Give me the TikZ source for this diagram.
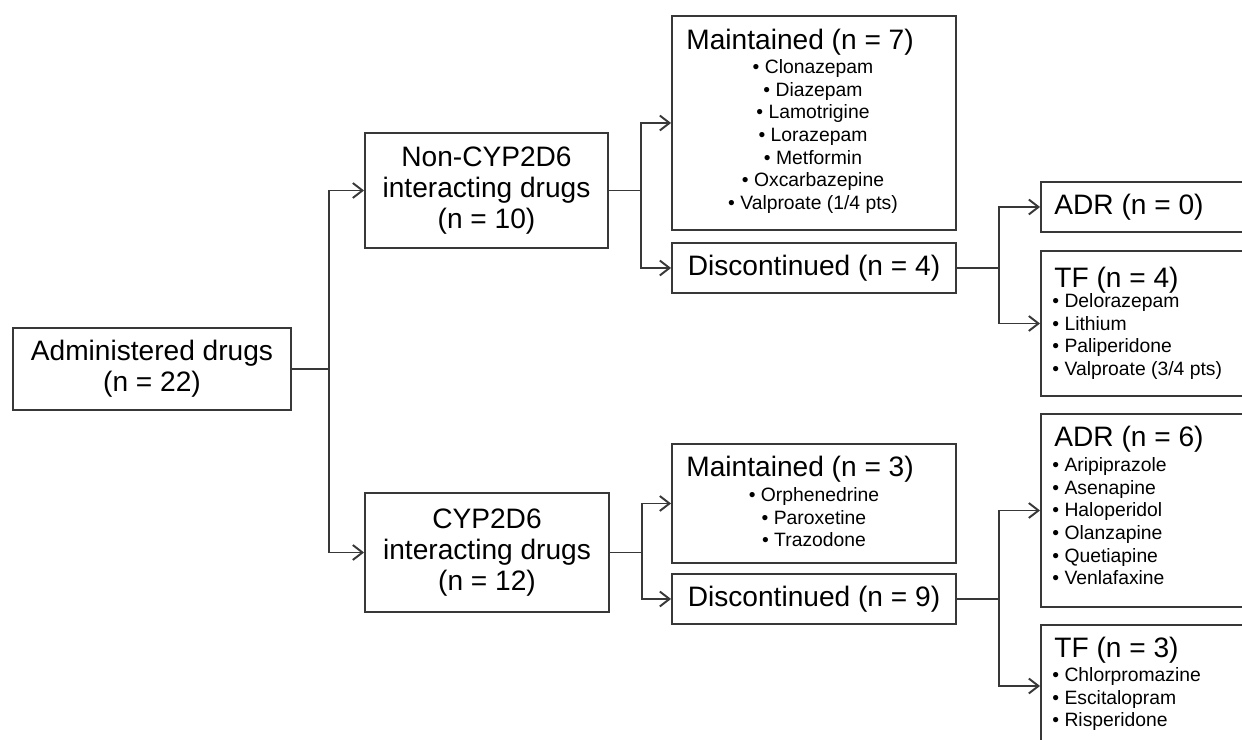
\documentclass[tikz,border=0pt]{standalone}
\usepackage{fontspec}
\setmainfont{Liberation Sans}
\usetikzlibrary{arrows.meta}

\begin{document}
\begin{tikzpicture}[x=0.02cm, y=0.02cm]
    \tikzstyle{box} = [rectangle, draw=black!78, line width=1.1pt, inner sep=0pt]
    \tikzstyle{head} = [font=\fontsize{16}{17.8}\selectfont, inner sep=0pt, align=center]
    \tikzstyle{items} = [font=\fontsize{11}{12.9}\selectfont, inner sep=0pt]
    \tikzstyle{line} = [draw=black!78, line width=1.1pt]
    \tikzstyle{arr} = [line, -{Straight Barb[length=5.5pt, width=8.5pt, line width=1.1pt]}]

    \useasboundingbox (0,0) rectangle (1242,740);
    \clip (0,0) rectangle (1242,740);

    \node [box, minimum width=5.56cm, minimum height=1.64cm] (admin) at (152,371) {};
    \node [box, minimum width=4.86cm, minimum height=2.3cm] (noncyp) at (486.5,549.5) {};
    \node [box, minimum width=4.88cm, minimum height=2.38cm] (cyp) at (487,187.5) {};
    \node [box, minimum width=5.68cm, minimum height=4.28cm] (mt7) at (814,617) {};
    \node [box, minimum width=5.68cm, minimum height=1cm] (dc4) at (814,472) {};
    \node [box, minimum width=5.68cm, minimum height=2.38cm] (mt3) at (814,236.5) {};
    \node [box, minimum width=5.68cm, minimum height=1cm] (dc9) at (814,141) {};
    \node [box, minimum width=4.18cm, minimum height=1cm] (adr0) at (1145.5,533) {};
    \node [box, minimum width=4.18cm, minimum height=2.9cm] (tf4) at (1145.5,416.5) {};
    \node [box, minimum width=4.18cm, minimum height=3.86cm] (adr6) at (1145.5,229.5) {};
    \node [box, minimum width=4.18cm, minimum height=2.44cm] (tf3) at (1145.5,54) {};

    \node [head] at (admin) {Administered drugs\\(n = 22)};
    \node [head] at (noncyp) {Non-CYP2D6\\interacting drugs\\(n = 10)};
    \node [head] at (cyp) {CYP2D6\\interacting drugs\\(n = 12)};
    \node [head] at (dc4) {Discontinued (n = 4)};
    \node [head] at (dc9) {Discontinued (n = 9)};

    \node [head, anchor=base west] (mt7head) at ([shift={(15,-34)}]mt7.north west) {Maintained (n = 7)};
    \node [items, anchor=north, align=center] (mt7list) at ([shift={(-1,-44)}]mt7.north) {%
        \textbullet~Clonazepam\\\textbullet~Diazepam\\\textbullet~Lamotrigine\\\textbullet~Lorazepam\\%
        \textbullet~Metformin\\\textbullet~Oxcarbazepine\\\textbullet~Valproate (1/4 pts)};
    \node [head, anchor=base west] (mt3head) at ([shift={(15,-33)}]mt3.north west) {Maintained (n = 3)};
    \node [items, anchor=north, align=center] (mt3list) at ([shift={(0,-44)}]mt3.north) {%
        \textbullet~Orphenedrine\\\textbullet~Paroxetine\\\textbullet~Trazodone};

    \node [head, anchor=base west] (adr0head) at ([shift={(14,-33)}]adr0.north west) {ADR (n = 0)};
    \node [head, anchor=base west] (tf4head) at ([shift={(14,-37)}]tf4.north west) {TF (n = 4)};
    \node [items, anchor=north west, align=left] (tf4list) at ([shift={(12,-43)}]tf4.north west) {%
        \textbullet~Delorazepam\\\textbullet~Lithium\\\textbullet~Paliperidone\\\textbullet~Valproate (3/4 pts)};
    \node [head, anchor=base west] (adr6head) at ([shift={(14,-33)}]adr6.north west) {ADR (n = 6)};
    \node [items, anchor=north west, align=left] (adr6list) at ([shift={(12,-44)}]adr6.north west) {%
        \textbullet~Aripiprazole\\\textbullet~Asenapine\\\textbullet~Haloperidol\\\textbullet~Olanzapine\\%
        \textbullet~Quetiapine\\\textbullet~Venlafaxine};
    \node [head, anchor=base west] (tf3head) at ([shift={(14,-33)}]tf3.north west) {TF (n = 3)};
    \node [items, anchor=north west, align=left] (tf3list) at ([shift={(12,-43)}]tf3.north west) {%
        \textbullet~Chlorpromazine\\\textbullet~Escitalopram\\\textbullet~Risperidone};

    \draw [line] (admin.east) -- ++(37,0) coordinate (j0);
    \draw [arr] (j0) |- (noncyp.west);
    \draw [arr] (j0) |- (cyp.west);

    \draw [line] (noncyp.east) -- ++(32,0) coordinate (j1);
    \draw [arr] (j1) |- (mt7.west);
    \draw [arr] (j1) |- (dc4.west);

    \draw [line] (cyp.east) -- ++(32,0) coordinate (j2);
    \draw [arr] (j2) |- (mt3.west);
    \draw [arr] (j2) |- (dc9.west);

    \draw [line] (dc4.east) -- ++(42,0) coordinate (j3);
    \draw [arr] (j3) |- (adr0.west);
    \draw [arr] (j3) |- (tf4.west);

    \draw [line] (dc9.east) -- ++(42,0) coordinate (j4);
    \draw [arr] (j4) |- (adr6.west);
    \draw [arr] (j4) |- (tf3.west);
\end{tikzpicture}
\end{document}
